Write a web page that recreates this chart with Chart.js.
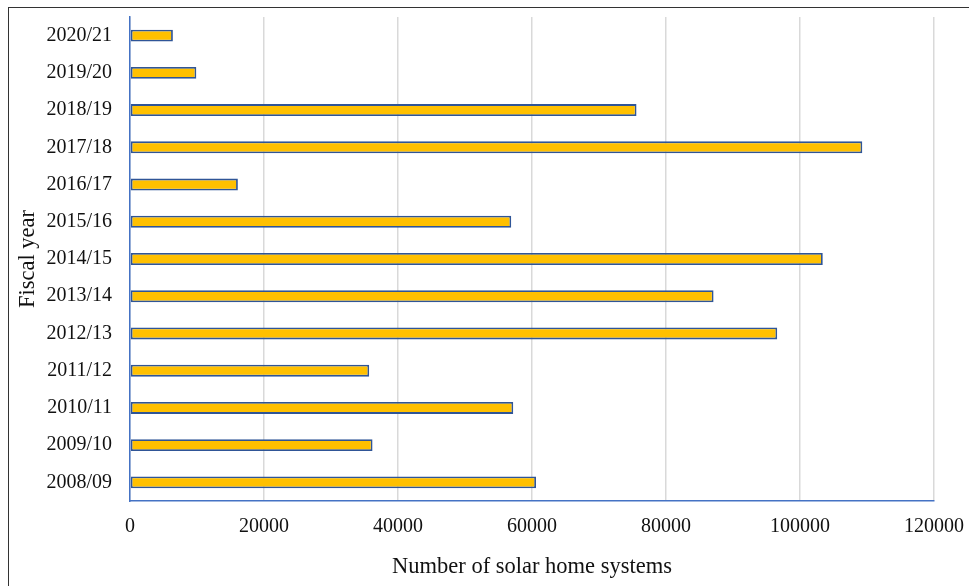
<!DOCTYPE html>
<html>
<head>
<meta charset="utf-8">
<script src="https://cdn.jsdelivr.net/npm/chart.js@4/dist/chart.umd.min.js"></script>
<style>
  html, body { margin: 0; padding: 0; background: #fff; }
  #wrap { position: relative; width: 969px; height: 586px; overflow: hidden; }
  #frame { position: absolute; left: 8px; top: 7px; width: 2000px; height: 2000px;
           border-top: 1.5px solid #333; border-left: 1.5px solid #333; box-sizing: border-box; }
  canvas { position: absolute; left: 0; top: 0; }
</style>
</head>
<body>
<div id="wrap">
  <div id="frame"></div>
  <canvas id="c" width="969" height="586"></canvas>
</div>
<script>
const categories = ["2020/21","2019/20","2018/19","2017/18","2016/17","2015/16","2014/15","2013/14","2012/13","2011/12","2010/11","2009/10","2008/09"];
const systems = [6400, 9900, 75600, 109300, 16100, 56900, 103400, 87100, 96600, 35700, 57200, 36200, 60600];
const xTicks = [0, 20000, 40000, 60000, 80000, 100000, 120000];
const xTitle = "Number of solar home systems";
const yTitle = "Fiscal year";

const font = { family: "'Liberation Serif', 'Times New Roman', serif", size: 20 };
const titleFont = { family: "'Liberation Serif', 'Times New Roman', serif", size: 22.5 };

new Chart(document.getElementById('c'), {
  type: 'bar',
  data: {
    labels: categories,
    datasets: [{
      data: systems,
      backgroundColor: '#FFC000',
      borderColor: '#2F5597',
      borderWidth: 1.8,
      borderSkipped: false,
      categoryPercentage: 1,
      barPercentage: 0.32
    }]
  },
  options: {
    indexAxis: 'y',
    responsive: false,
    animation: false,
    layout: { padding: { left: 10, top: 17, right: 35, bottom: 0 } },
    plugins: { legend: { display: false }, tooltip: { enabled: false } },
    scales: {
      x: {
        min: 0, max: 120000,
        afterBuildTicks: (s) => { s.ticks = xTicks.map(v => ({ value: v })); },
        afterFit: (s) => { s.height = 85; s.paddingLeft = 0; s.paddingRight = 0; },
        grid: { color: '#D9D9D9', lineWidth: 1.5, drawTicks: false },
        border: { display: true, color: '#4472C4', width: 1.5 },
        ticks: { color: '#111', font: font, padding: 14, maxRotation: 0, callback: (v) => String(v) },
        title: { display: true, text: xTitle, color: '#111', font: titleFont, padding: { top: 0, bottom: 5 } }
      },
      y: {
        afterFit: (s) => { s.width = 120; s.paddingTop = 0; s.paddingBottom = 0; },
        grid: { display: false, drawTicks: false },
        border: { display: true, color: '#4472C4', width: 1.5 },
        ticks: { color: '#111', font: font, padding: 18 },
        title: { display: true, text: yTitle, color: '#111', font: titleFont, padding: { top: 5, bottom: 0 } }
      }
    }
  }
});
</script>
</body>
</html>
